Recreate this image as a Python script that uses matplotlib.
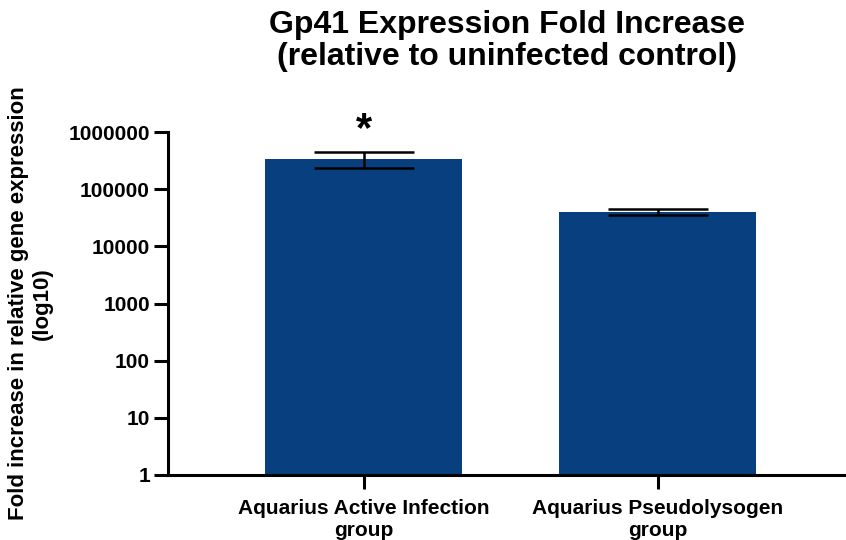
import matplotlib.pyplot as plt

plt.rcParams['font.family'] = ['Liberation Sans', 'DejaVu Sans']
plt.rcParams['font.weight'] = 'bold'

groups = ['Aquarius Active Infection\ngroup', 'Aquarius Pseudolysogen\ngroup']
means = [338000, 40300]
err_low = [102000, 4600]
err_high = [110000, 5100]
yticks = [1, 10, 100, 1000, 10000, 100000, 1000000]

fig = plt.figure(figsize=(8.46, 5.4), dpi=100)
ax = fig.add_axes([168 / 846, 1 - 475 / 540, 678 / 846, (475 - 132) / 540])

x = range(len(groups))
ax.bar(x, means, width=0.67, color='#083f7e', zorder=2)
ax.errorbar(x, means, yerr=[err_low, err_high], fmt='none', ecolor='black',
            elinewidth=1.8, capsize=36, capthick=1.8, zorder=3)
ax.text(0, 1.1e6, '*', ha='center', va='center', fontsize=30, fontweight='bold')

ax.set_yscale('log')
ax.set_ylim(1, 1000000)
ax.set_yticks(yticks)
ax.set_yticklabels([str(v) for v in yticks])
ax.minorticks_off()
ax.set_xlim(-0.665, 1.641)
ax.set_xticks(list(x))
ax.set_xticklabels(groups)

for s in ['top', 'right']:
    ax.spines[s].set_visible(False)
for s in ['left', 'bottom']:
    ax.spines[s].set_linewidth(2.2)
ax.tick_params(axis='both', width=2.2, length=10, labelsize=15)
ax.tick_params(axis='y', pad=3)
ax.tick_params(axis='x', pad=7)

ax.set_ylabel('Fold increase in relative gene expression\n(log10)', fontsize=16,
              fontweight='bold', labelpad=11)
ax.set_title('Gp41 Expression Fold Increase\n(relative to uninfected control)',
             fontsize=23, fontweight='bold', pad=48, linespacing=1.1)

fig.savefig('out.png', dpi=100)
